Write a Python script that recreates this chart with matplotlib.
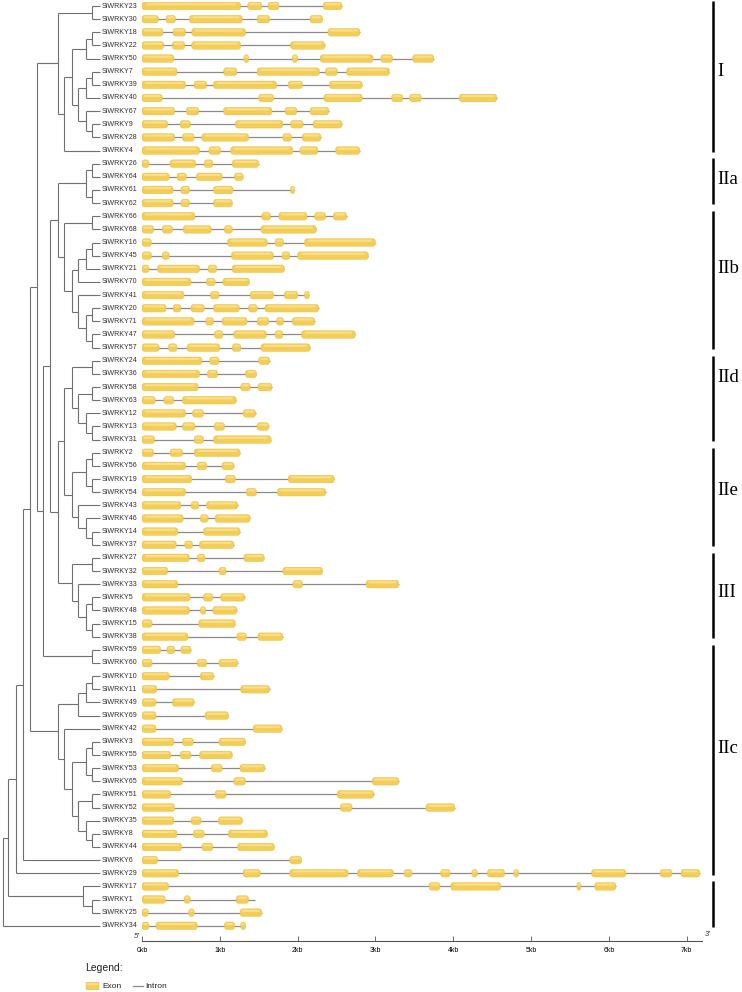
import matplotlib
matplotlib.use('Agg')
import matplotlib.pyplot as plt
from matplotlib.collections import LineCollection
from matplotlib.patches import FancyBboxPatch

# gene groups (top to bottom) and exon (start, end) in kb
group_labels = ['I', 'IIa', 'IIb', 'IId', 'IIe', 'III', 'IIc', '']

genes_I = ['SiWRKY23', 'SiWRKY30', 'SiWRKY18', 'SiWRKY22', 'SiWRKY50', 'SiWRKY7',
           'SiWRKY39', 'SiWRKY40', 'SiWRKY67', 'SiWRKY9', 'SiWRKY28', 'SiWRKY4']
exons_I = [
    [(0, 1.27), (1.36, 1.54), (1.62, 1.76), (2.33, 2.57)],
    [(0, 0.21), (0.31, 0.43), (0.61, 1.29), (1.48, 1.64), (2.16, 2.32)],
    [(0, 0.27), (0.40, 0.56), (0.64, 1.33), (2.39, 2.80)],
    [(0, 0.28), (0.39, 0.55), (0.64, 1.27), (1.91, 2.35)],
    [(0, 0.41), (1.31, 1.37), (1.93, 2.00), (2.29, 2.97), (3.07, 3.22), (3.48, 3.75)],
    [(0, 0.45), (1.05, 1.22), (1.48, 2.28), (2.36, 2.51), (2.63, 3.18)],
    [(0, 0.56), (0.67, 0.83), (0.92, 1.73), (1.88, 2.06), (2.41, 2.83)],
    [(0, 0.26), (1.50, 1.69), (2.34, 2.83), (3.21, 3.35), (3.44, 3.59), (4.08, 4.56)],
    [(0, 0.42), (0.57, 0.73), (1.05, 1.67), (1.84, 1.99), (2.16, 2.40)],
    [(0, 0.33), (0.49, 0.62), (1.20, 1.81), (1.91, 2.07), (2.20, 2.57)],
    [(0, 0.42), (0.52, 0.67), (0.77, 1.37), (1.81, 1.92), (2.06, 2.30)],
    [(0, 0.74), (0.86, 1.01), (1.14, 1.94), (2.03, 2.26), (2.49, 2.80)],
]

genes_IIa = ['SiWRKY26', 'SiWRKY64', 'SiWRKY61', 'SiWRKY62']
exons_IIa = [
    [(0, 0.09), (0.36, 0.69), (0.80, 0.91), (1.16, 1.50)],
    [(0, 0.35), (0.45, 0.57), (0.70, 1.03), (1.19, 1.30)],
    [(0, 0.40), (0.50, 0.61), (0.92, 1.17), (1.91, 1.925)],
    [(0, 0.40), (0.50, 0.61), (0.92, 1.16)],
]

genes_IIb = ['SiWRKY66', 'SiWRKY68', 'SiWRKY16', 'SiWRKY45', 'SiWRKY21', 'SiWRKY70',
             'SiWRKY41', 'SiWRKY20', 'SiWRKY71', 'SiWRKY47', 'SiWRKY57']
exons_IIb = [
    [(0, 0.68), (1.54, 1.65), (1.76, 2.12), (2.22, 2.36), (2.46, 2.63)],
    [(0, 0.15), (0.26, 0.39), (0.53, 0.89), (1.06, 1.16), (1.53, 2.24)],
    [(0, 0.12), (1.10, 1.61), (1.71, 1.82), (2.09, 3.00)],
    [(0, 0.12), (0.26, 0.35), (1.15, 1.69), (1.80, 1.90), (2.00, 2.91)],
    [(0, 0.09), (0.20, 0.74), (0.85, 0.96), (1.16, 1.83)],
    [(0, 0.63), (0.83, 0.94), (1.04, 1.38)],
    [(0, 0.54), (0.88, 0.99), (1.39, 1.69), (1.83, 2.00), (2.09, 2.15)],
    [(0, 0.31), (0.40, 0.50), (0.63, 0.80), (0.92, 1.25), (1.37, 1.48), (1.58, 2.27)],
    [(0, 0.67), (0.82, 0.92), (1.03, 1.35), (1.48, 1.63), (1.73, 1.82), (1.93, 2.22)],
    [(0, 0.42), (0.93, 1.04), (1.18, 1.60), (1.71, 1.81), (2.05, 2.74)],
    [(0, 0.22), (0.34, 0.45), (0.58, 1.00), (1.16, 1.27), (1.53, 2.16)],
]

genes_IId = ['SiWRKY24', 'SiWRKY36', 'SiWRKY58', 'SiWRKY63', 'SiWRKY12', 'SiWRKY13', 'SiWRKY31']
exons_IId = [
    [(0, 0.77), (0.87, 0.99), (1.50, 1.64)],
    [(0, 0.74), (0.84, 0.97), (1.33, 1.47)],
    [(0, 0.72), (1.27, 1.39), (1.49, 1.67)],
    [(0, 0.17), (0.28, 0.41), (0.52, 1.21)],
    [(0, 0.56), (0.65, 0.79), (1.30, 1.46)],
    [(0, 0.44), (0.52, 0.68), (0.93, 1.06), (1.48, 1.63)],
    [(0, 0.16), (0.67, 0.79), (0.92, 1.66)],
]

genes_IIe = ['SiWRKY2', 'SiWRKY56', 'SiWRKY19', 'SiWRKY54', 'SiWRKY43', 'SiWRKY46',
             'SiWRKY14', 'SiWRKY37']
exons_IIe = [
    [(0, 0.15), (0.36, 0.52), (0.67, 1.26)],
    [(0, 0.56), (0.71, 0.83), (1.03, 1.18)],
    [(0, 0.64), (1.07, 1.20), (1.88, 2.47)],
    [(0, 0.56), (1.34, 1.47), (1.74, 2.36)],
    [(0, 0.50), (0.63, 0.73), (0.83, 1.23)],
    [(0, 0.53), (0.75, 0.85), (0.94, 1.39)],
    [(0, 0.46), (0.79, 1.26)],
    [(0, 0.44), (0.55, 0.65), (0.74, 1.18)],
]

genes_III = ['SiWRKY27', 'SiWRKY32', 'SiWRKY33', 'SiWRKY5', 'SiWRKY48', 'SiWRKY15', 'SiWRKY38']
exons_III = [
    [(0, 0.61), (0.71, 0.81), (1.31, 1.57)],
    [(0, 0.33), (0.99, 1.08), (1.81, 2.32)],
    [(0, 0.46), (1.94, 2.06), (2.88, 3.30)],
    [(0, 0.62), (0.79, 0.91), (1.01, 1.32)],
    [(0, 0.61), (0.75, 0.82), (0.91, 1.22)],
    [(0, 0.13), (0.73, 1.20)],
    [(0, 0.59), (1.22, 1.34), (1.49, 1.81)],
]

genes_IIc = ['SiWRKY59', 'SiWRKY60', 'SiWRKY10', 'SiWRKY11', 'SiWRKY49', 'SiWRKY69',
             'SiWRKY42', 'SiWRKY3', 'SiWRKY55', 'SiWRKY53', 'SiWRKY65', 'SiWRKY51',
             'SiWRKY52', 'SiWRKY35', 'SiWRKY8', 'SiWRKY44', 'SiWRKY6', 'SiWRKY29']
exons_IIc = [
    [(0, 0.24), (0.32, 0.42), (0.50, 0.63)],
    [(0, 0.13), (0.71, 0.83), (0.99, 1.23)],
    [(0, 0.35), (0.75, 0.92)],
    [(0, 0.19), (1.27, 1.64)],
    [(0, 0.18), (0.39, 0.67)],
    [(0, 0.18), (0.81, 1.11)],
    [(0, 0.18), (1.43, 1.80)],
    [(0, 0.41), (0.52, 0.66), (0.99, 1.33)],
    [(0, 0.37), (0.49, 0.63), (0.74, 1.16)],
    [(0, 0.47), (0.89, 1.03), (1.26, 1.58)],
    [(0, 0.52), (1.18, 1.33), (2.96, 3.30)],
    [(0, 0.37), (0.94, 1.08), (2.51, 2.98)],
    [(0, 0.42), (2.55, 2.70), (3.65, 4.02)],
    [(0, 0.41), (0.63, 0.76), (0.98, 1.29)],
    [(0, 0.45), (0.66, 0.80), (1.11, 1.61)],
    [(0, 0.51), (0.77, 0.91), (1.23, 1.70)],
    [(0, 0.20), (1.90, 2.05)],
    [(0, 0.47), (1.30, 1.52), (1.90, 2.65), (2.77, 3.23), (3.37, 3.47), (3.84, 3.96),
     (4.24, 4.31), (4.44, 4.66), (4.78, 4.84), (5.78, 6.22), (6.66, 6.81), (6.93, 7.17)],
]

genes_out = ['SiWRKY17', 'SiWRKY1', 'SiWRKY25', 'SiWRKY34']
exons_out = [
    [(0, 0.34), (3.69, 3.83), (3.97, 4.61), (5.59, 5.63), (5.82, 6.09)],
    [(0, 0.30), (0.54, 0.62), (1.21, 1.37)],
    [(0, 0.08), (0.60, 0.67), (1.26, 1.54)],
    [(0, 0.09), (0.18, 0.71), (1.06, 1.19), (1.27, 1.33)],
]
gene_tail = {'SiWRKY1': 1.45}  # intron line running past the last exon

# tree: (node depth, children...), leaves at depth 100
clade_I = (58, (92, 'SiWRKY23', 'SiWRKY30'),
           (64, (72, (86, (92, 'SiWRKY18', 'SiWRKY22'), 'SiWRKY50'),
                 (78, (86, (92, 'SiWRKY7', 'SiWRKY39'), 'SiWRKY40'),
                  (86, 'SiWRKY67', (92, 'SiWRKY9', 'SiWRKY28')))),
            'SiWRKY4'))
clade_IIa = (86, (92, 'SiWRKY26', 'SiWRKY64'), (92, 'SiWRKY61', 'SiWRKY62'))
clade_IIb = (64, (92, 'SiWRKY66', 'SiWRKY68'),
             (72, (78, (86, (92, 'SiWRKY16', 'SiWRKY45'), 'SiWRKY21'), 'SiWRKY70'),
              (78, 'SiWRKY41', (86, (92, 'SiWRKY20', 'SiWRKY71'), (92, 'SiWRKY47', 'SiWRKY57')))))
clade_IId = (72, (92, 'SiWRKY24', 'SiWRKY36'),
             (78, (92, 'SiWRKY58', 'SiWRKY63'), (86, 'SiWRKY12', (92, 'SiWRKY13', 'SiWRKY31'))))
clade_IIe = (72, (86, (92, 'SiWRKY2', 'SiWRKY56'), (92, 'SiWRKY19', 'SiWRKY54')),
             (78, 'SiWRKY43', (86, 'SiWRKY46', (92, 'SiWRKY14', 'SiWRKY37'))))
clade_III = (72, (92, 'SiWRKY27', 'SiWRKY32'),
             (78, 'SiWRKY33', (86, (92, 'SiWRKY5', 'SiWRKY48'), (92, 'SiWRKY15', 'SiWRKY38'))))
clade_IIc = (58, (78, (86, (92, 'SiWRKY10', 'SiWRKY11'), 'SiWRKY49'), 'SiWRKY69'),
             (64, 'SiWRKY42',
              (72, (86, (92, 'SiWRKY3', 'SiWRKY55'), (92, 'SiWRKY53', 'SiWRKY65')),
               (78, (92, 'SiWRKY51', 'SiWRKY52'), (86, 'SiWRKY35', (92, 'SiWRKY8', 'SiWRKY44'))))))
tree = (3, (8, (16, (23, (30, (37, clade_I,
                               (43, (50, (58, clade_IIa, clade_IIb),
                                     (58, (64, clade_IId, clade_IIe), clade_III)),
                                (92, 'SiWRKY59', 'SiWRKY60'))),
                          clade_IIc),
                     'SiWRKY6'),
                'SiWRKY29'),
           (83, 'SiWRKY17', (92, 'SiWRKY1', 'SiWRKY25'))),
        'SiWRKY34')

ticks_kb = [0, 1, 2, 3, 4, 5, 6, 7]

# ---------------------------------------------------------------
groups = [genes_I, genes_IIa, genes_IIb, genes_IId, genes_IIe, genes_III, genes_IIc, genes_out]
exon_sets = [exons_I, exons_IIa, exons_IIb, exons_IId, exons_IIe, exons_III, exons_IIc, exons_out]
names = [g for grp in groups for g in grp]
exons = [e for grp in exon_sets for e in grp]
row = {n: i for i, n in enumerate(names)}

W, H = 742, 992
ROW0, STEP = 6.0, 13.14        # pixel y of first row, row spacing
KB0, PXKB = 142.0, 77.8        # pixel x of 0kb, pixels per kb
EXON_FC, EXON_HI, INTRON_C = '#F3CD55', '#F9DF8A', '#8a8a8a'
fig = plt.figure(figsize=(W / 100, H / 100), dpi=100)


def px_axes(x0, x1, y0=0, y1=H):
    ax = fig.add_axes([x0 / W, 1 - y1 / H, (x1 - x0) / W, (y1 - y0) / H])
    ax.axis('off')
    return ax


def exon_box(ax, s, e, y, hpx, aspect):
    # rounded rectangle; aspect = (y units per px) / (x units per px)
    w = max(e - s, 4.0 / PXKB * (1 if aspect > 1 else 1))
    h = hpx * aspect / PXKB
    rad = min(2.6 / PXKB, w / 2)
    ax.add_patch(FancyBboxPatch((s, y - h / 2), w, h,
                                boxstyle=f'round,pad=0,rounding_size={rad}',
                                mutation_aspect=aspect, fc=EXON_FC, ec='#E9BF45',
                                lw=0.3, zorder=2))
    hh = h * 0.28
    ax.add_patch(FancyBboxPatch((s + w * 0.04, y - h / 2 + h * 0.12), w * 0.92, hh,
                                boxstyle=f'round,pad=0,rounding_size={min(rad, w * 0.4)}',
                                mutation_aspect=aspect, fc=EXON_HI, ec='none', zorder=3))


yl = ((H - ROW0) / STEP, -ROW0 / STEP)

# tree
axt = px_axes(0, 100)
axt.set_xlim(0, 100)
axt.set_ylim(*yl)
segs = []


def walk(node):
    if isinstance(node, str):
        return 100, row[node]
    x = node[0]
    ys = []
    for c in node[1:]:
        cx, cy = walk(c)
        segs.append([(x, cy), (cx, cy)])
        ys.append(cy)
    segs.append([(x, ys[0]), (x, ys[-1])])
    return x, (ys[0] + ys[-1]) / 2


walk(tree)
axt.add_collection(LineCollection(segs, colors='#6f6f6f', linewidths=0.8, clip_on=False))
for n in names:
    axt.text(102, row[n], n, fontsize=5.1, family='Liberation Sans', color='#303030',
             va='center', ha='left', clip_on=False)

# gene structures
axg = px_axes(KB0, 722)
axg.set_xlim(0, (722 - KB0) / PXKB)
axg.set_ylim(*yl)
asp = PXKB / STEP
for n, ex in zip(names, exons):
    y = row[n]
    end = gene_tail.get(n, ex[-1][1])
    axg.plot([0, end], [y, y], color=INTRON_C, lw=0.9, solid_capstyle='butt', zorder=1)
    for s, e in ex:
        exon_box(axg, s, e, y, 7.6, asp)

# scale bar
axs = fig.add_axes([KB0 / W, 1 - 941 / H, (722 - KB0) / W, 1 / H])
axs.set_xlim(0, (722 - KB0) / PXKB)
for s in ['top', 'left', 'right']:
    axs.spines[s].set_visible(False)
axs.spines['bottom'].set_bounds(0, 7.2)
axs.spines['bottom'].set_color('#555555')
axs.spines['bottom'].set_linewidth(0.8)
axs.set_yticks([])
axs.set_xticks(ticks_kb)
axs.set_xticklabels([f'{t}kb' for t in ticks_kb], fontsize=5, family='Liberation Sans')
axs.tick_params(axis='x', direction='in', length=3.5, width=0.6, color='#555555', pad=4)
fig.text(134 / W, 1 - 936 / H, "5'", fontsize=5.5, family='Liberation Sans', style='italic',
         color='#333333', va='center')
fig.text(705 / W, 1 - 935 / H, "3'", fontsize=5.5, family='Liberation Sans', style='italic',
         color='#333333', va='center')

# clade brackets
axb = px_axes(700, 742)
axb.set_xlim(0, 42)
axb.set_ylim(*yl)
lab_off = [-0.5, -0.3, -1.0, -1.7, -0.6, -0.4, -1.0, 0]
i0 = 0
for lab, grp, off in zip(group_labels, groups, lab_off):
    i1 = i0 + len(grp) - 1
    axb.plot([13, 13], [i0 - 0.4, i1 + 0.1], color='black', lw=1.8, solid_capstyle='butt')
    if lab:
        axb.text(17, (i0 + i1) / 2 + off, lab, fontsize=13.5, family='Liberation Serif',
                 va='center', ha='left')
    i0 = i1 + 1

# legend
fig.text(85 / W, 1 - 968 / H, 'Legend:', fontsize=7.5, family='Liberation Sans',
         color='#222222', va='center')
axl = px_axes(80, 180, 978, 994)
axl.set_xlim(80, 180)
axl.set_ylim(994, 978)
exon_box(axl, 86, 99, 986, 7.6, 1.0 * PXKB)
axl.plot([133, 143], [986, 986], color=INTRON_C, lw=0.9)
axl.text(102, 986, 'Exon', fontsize=6, family='Liberation Sans', va='center', color='#222222')
axl.text(145, 986, 'Intron', fontsize=6, family='Liberation Sans', va='center', color='#222222')

fig.savefig('out.png', dpi=100)
